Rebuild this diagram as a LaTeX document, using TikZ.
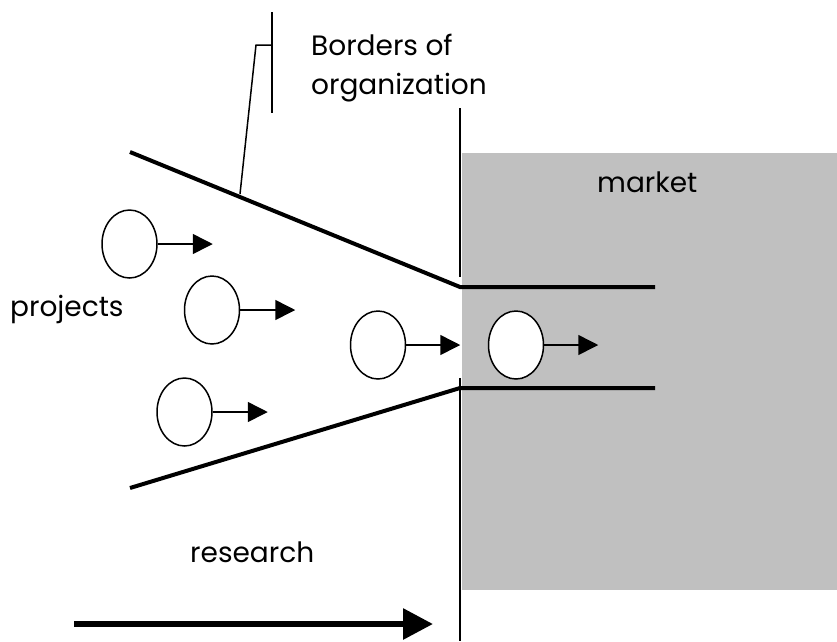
\documentclass[tikz,border=0pt]{standalone}
\usepackage{fontspec}
\setmainfont{Poppins}
\usepackage{xcolor}
\usetikzlibrary{shapes.geometric,arrows.meta}
\definecolor{marketgray}{RGB}{192,192,192}

\begin{document}
\begin{tikzpicture}[x=1pt,y=-1pt,
    project/.style={draw,ellipse,line width=1.5pt,fill=white,minimum width=55pt,minimum height=68pt,inner sep=0pt},
    move/.style={-{Triangle[length=20pt,width=20pt]},line width=1.5pt},
    border/.style={line width=4pt},
    txt/.style={font=\fontsize{28}{39}\selectfont,inner sep=0pt}]
    \useasboundingbox (0,0) rectangle (837,641);
    % market area
    \fill[marketgray] (462,153) rectangle (837,590);
    \draw[line width=2pt] (460,108) -- (460,277);
    \draw[line width=2pt] (460,378) -- (460,641);
    % funnel of the organization
    \coordinate (topin) at (130,152);
    \coordinate (topout) at (460,287);
    \coordinate (botin) at (130,488);
    \coordinate (botout) at (460,388);
    \draw[border] (topin) -- (topout) -- (655,287);
    \draw[border] (botin) -- (botout) -- (655,388);
    % callout
    \coordinate (hit) at (240,194);
    \draw[line width=1.5pt] (272,12) -- (272,113);
    \draw[line width=1.5pt] (hit) -- (256,45) -- (272,45);
    \node[txt,anchor=base west,align=left] (borders) at (311,94) {Borders of\\organization};
    % projects
    \node[project] (p1) at (129.5,244) {};
    \node[project] (p2) at (212,310) {};
    \node[project] (p3) at (378,345) {};
    \node[project] (p4) at (516,345) {};
    \node[project] (p5) at (184.5,412) {};
    \draw[move] (p1.east) -- ++(55,0);
    \draw[move] (p2.east) -- ++(55,0);
    \draw[move] (p3.east) -- ++(54,0);
    \draw[move] (p4.east) -- ++(54,0);
    \draw[move] (p5.east) -- ++(55,0);
    \node[txt,anchor=base west] (market) at (597,192) {market};
    \node[txt,anchor=base west] (projects) at (10,316) {projects};
    \node[txt,anchor=base west] (research) at (190,562) {research};
    % research direction
    \coordinate (rstart) at (74,624);
    \coordinate (rend) at (433,624);
    \draw[line width=6pt,-{Triangle[length=30pt,width=30pt]}] (rstart) -- (rend);
\end{tikzpicture}
\end{document}
